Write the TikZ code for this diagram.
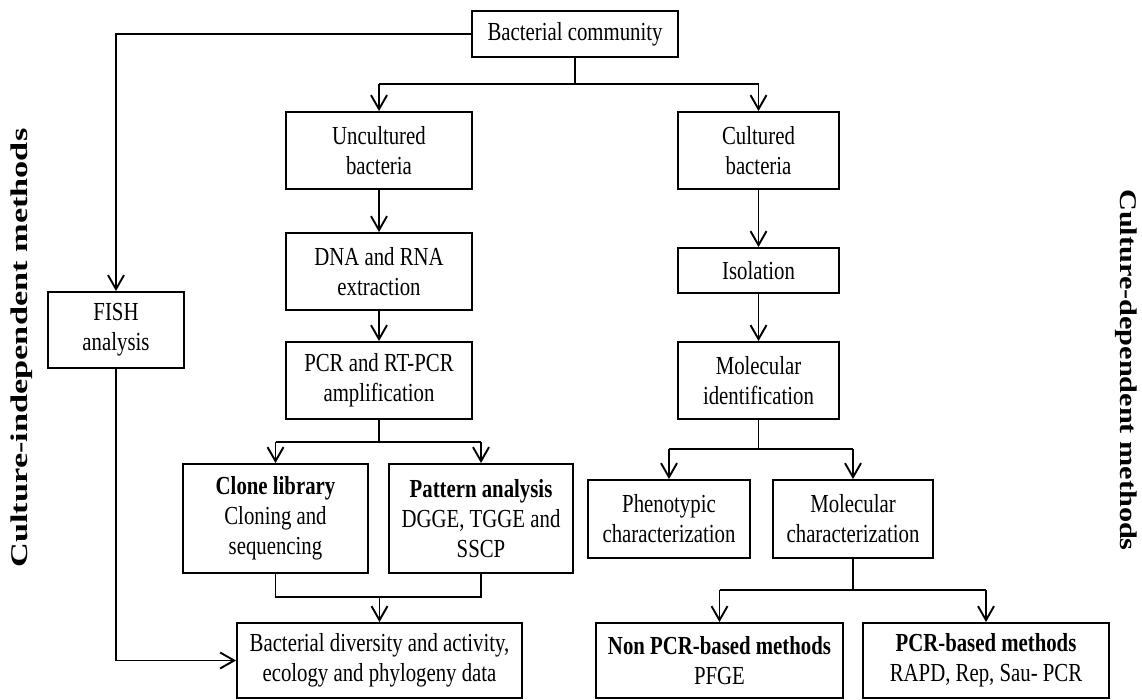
\documentclass[tikz,border=0pt]{standalone}
\usepackage{fontspec}
\setmainfont{Liberation Serif}[FakeStretch=0.80]
\newfontfamily\sidefontl{Liberation Serif}[FakeStretch=1.43]
\newfontfamily\sidefontr{Liberation Serif}[FakeStretch=1.26]
\usetikzlibrary{arrows.meta}
\tikzset{
  box/.style={draw, line width=1.9pt, inner sep=0pt, align=center,
    font=\fontsize{26}{30}\selectfont},
  conn/.style={line width=1.9pt},
  arr/.style={line width=1.9pt, -{Straight Barb[length=14pt,width=16pt,line width=1.9pt]}},
  sidelabel/.style={inner sep=0pt}
}
\begin{document}
\begin{tikzpicture}[x=1pt,y=-1pt]
\useasboundingbox[fill=white] (0,0) rectangle (1142,699);
% boxes
\node[box, minimum width=206pt, minimum height=46pt] (bc) at (575,34) {Bacterial community};
\node[box, minimum width=186pt, minimum height=77pt] (unc) at (379,150.5) {Uncultured\\bacteria};
\node[box, minimum width=161pt, minimum height=77pt] (cul) at (758.5,150.5) {Cultured\\bacteria};
\node[box, minimum width=186pt, minimum height=77pt] (dna) at (379,271.5) {DNA and RNA\\extraction};
\node[box, minimum width=186pt, minimum height=77pt] (pcr) at (379,380.5) {PCR and RT-PCR\\amplification};
\node[box, minimum width=161pt, minimum height=45pt] (iso) at (758.5,270.5) {Isolation};
\node[box, minimum width=161pt, minimum height=77pt] (mid) at (758.5,380.5) {Molecular\\identification};
\node[box, minimum width=136pt, minimum height=76pt] (fish) at (116,330) {FISH\\analysis};
\node[box, minimum width=185pt, minimum height=109pt] (clone) at (275.5,518.5) {\textbf{Clone library}\\Cloning and\\sequencing};
\node[box, minimum width=184pt, minimum height=109pt] (pat) at (481,518.5) {\textbf{Pattern analysis}\\DGGE, TGGE and\\SSCP};
\node[box, minimum width=285pt, minimum height=75pt] (div) at (379.5,660.5) {Bacterial diversity and activity,\\ecology and phylogeny data};
\node[box, minimum width=162pt, minimum height=78pt] (phen) at (669,519) {Phenotypic\\characterization};
\node[box, minimum width=160pt, minimum height=78pt] (molc) at (853,519) {Molecular\\characterization};
\node[box, minimum width=247pt, minimum height=75pt] (non) at (719.5,660.5) {\textbf{Non PCR-based methods}\\PFGE};
\node[box, minimum width=246pt, minimum height=75pt] (pcrb) at (986,660.5) {\textbf{PCR-based methods}\\RAPD, Rep, Sau- PCR};
% side labels
\node[sidelabel, rotate=90, font=\sidefontl\bfseries\fontsize{24}{28}\selectfont] (lind) at (22,348) {Culture-independent methods};
\node[sidelabel, rotate=-90, font=\sidefontr\bfseries\fontsize{24}{28}\selectfont] (ldep) at (1126,370) {Culture-dependent methods};
% junction coordinates
\coordinate (j1) at (bc.south |- 0,84);
\coordinate (j1l) at (unc.north |- 0,84);
\coordinate (j1r) at (cul.north |- 0,84);
\coordinate (jf) at (fish.north |- bc.west);
\coordinate (jfb) at (fish.south |- div.west);
\coordinate (j2) at (pcr.south |- 0,442);
\coordinate (j2l) at (clone.north |- 0,442);
\coordinate (j2r) at (pat.north |- 0,442);
\coordinate (j3l) at (clone.south |- 0,597);
\coordinate (j3r) at (pat.south |- 0,597);
\coordinate (j3) at (div.north |- 0,597);
\coordinate (j4) at (mid.south |- 0,449);
\coordinate (j4l) at (phen.north |- 0,449);
\coordinate (j4r) at (molc.north |- 0,449);
\coordinate (j5) at (molc.south |- 0,590);
\coordinate (j5l) at (non.north |- 0,590);
\coordinate (j5r) at (pcrb.north |- 0,590);
% connectors
\draw[conn] (bc.south) -- (j1);
\draw[conn] (j1l) -- (j1r);
\draw[arr] (j1l) -- (unc.north);
\draw[arr] (j1r) -- (cul.north);
\draw[arr] (bc.west) -- (jf) -- (fish.north);
\draw[arr] (fish.south) -- (jfb) -- (div.west);
\draw[arr] (unc) -- (dna);
\draw[arr] (dna) -- (pcr);
\draw[conn] (pcr.south) -- (j2);
\draw[conn] (j2l) -- (j2r);
\draw[arr] (j2l) -- (clone.north);
\draw[arr] (j2r) -- (pat.north);
\draw[conn] (clone.south) -- (j3l) -- (j3r) -- (pat.south);
\draw[arr] (j3) -- (div.north);
\draw[arr] (cul) -- (iso);
\draw[arr] (iso) -- (mid);
\draw[conn] (mid.south) -- (j4);
\draw[conn] (j4l) -- (j4r);
\draw[arr] (j4l) -- (phen.north);
\draw[arr] (j4r) -- (molc.north);
\draw[conn] (molc.south) -- (j5);
\draw[conn] (j5l) -- (j5r);
\draw[arr] (j5l) -- (non.north);
\draw[arr] (j5r) -- (pcrb.north);
\end{tikzpicture}
\end{document}
